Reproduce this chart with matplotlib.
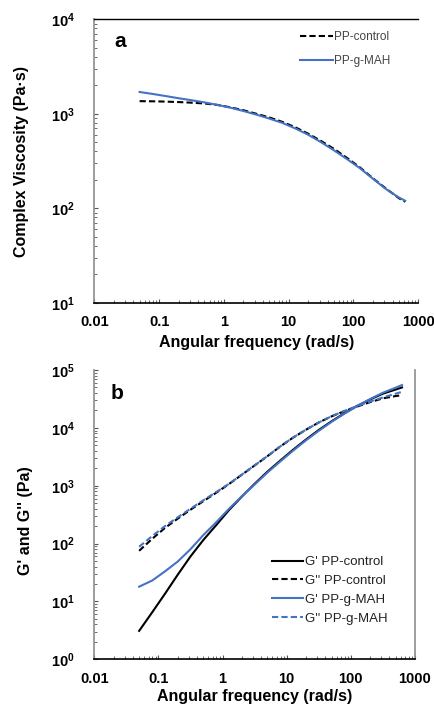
import math

import matplotlib
matplotlib.use("Agg")
import matplotlib.pyplot as plt
from matplotlib.ticker import FixedLocator, FuncFormatter, LogLocator, NullFormatter

# =========================
# DATA
# =========================

freq = [0.05, 0.08, 0.126, 0.2, 0.316, 0.5, 0.8, 1.26, 2, 3.16, 5, 8,
        12.6, 20, 31.6, 50, 80, 126, 200, 316, 500, 628]

eta_control = [1360, 1355, 1345, 1330, 1310, 1285, 1240, 1170, 1090, 1000, 915, 820,
               720, 615, 515, 425, 340, 270, 207, 162, 128, 117]
eta_mah = [1700, 1620, 1540, 1460, 1390, 1320, 1240, 1160, 1070, 980, 890, 800,
           700, 600, 500, 410, 330, 265, 205, 160, 130, 120]

g1_control = [3.1, 6.5, 13.5, 29, 60, 115, 210, 380, 650, 1080, 1750, 2750,
              4200, 6300, 9200, 13000, 18000, 24000, 31000, 39000, 46000, 50000]
g2_control = [75, 121, 186, 270, 385, 540, 760, 1070, 1550, 2240, 3240, 4800,
              6800, 9300, 12400, 15800, 19500, 23400, 27900, 32400, 35500, 36700]
g1_mah = [18, 23, 33, 49, 80, 140, 235, 400, 660, 1050, 1690, 2650,
          4050, 6100, 8900, 12700, 17700, 24000, 31500, 40500, 49500, 55000]
g2_mah = [88, 135, 200, 285, 400, 560, 780, 1080, 1560, 2250, 3250, 4820,
          6820, 9300, 12400, 15900, 19700, 23900, 28500, 33500, 39000, 42000]

xticks = [0.01, 0.1, 1, 10, 100, 1000]
xtick_labels = ["0.01", "0.1", "1", "10", "100", "1000"]

BLUE = "#4472C4"
FONT = "Liberation Sans"

plt.rcParams["mathtext.fontset"] = "custom"
plt.rcParams["mathtext.rm"] = FONT
plt.rcParams["mathtext.bf"] = FONT + ":bold"


def style_axis(ax, ymin, ymax):
    ax.set_xscale("log")
    ax.set_yscale("log")
    ax.set_xlim(0.01, 1000)
    ax.set_ylim(ymin, ymax)
    ax.xaxis.set_major_locator(FixedLocator(xticks))
    ax.set_xticklabels(xtick_labels)
    ax.xaxis.set_minor_locator(LogLocator(base=10, subs=range(2, 10)))
    ax.xaxis.set_minor_formatter(NullFormatter())
    ax.yaxis.set_major_locator(LogLocator(base=10, numticks=10))
    ax.yaxis.set_minor_locator(LogLocator(base=10, subs=range(2, 10), numticks=10))
    ax.yaxis.set_minor_formatter(NullFormatter())
    ax.yaxis.set_major_formatter(
        FuncFormatter(lambda v, p: r"$\mathbf{10^{%d}}$" % round(math.log10(v)))
    )
    ax.tick_params(which="major", direction="in", length=3, width=0.8, color="#555555",
                   labelsize=10.5)
    ax.tick_params(axis="x", which="major", pad=9)
    ax.tick_params(axis="y", which="major", pad=14)
    ax.tick_params(which="minor", direction="in", length=2, width=0.6, color="#555555")
    for lab in ax.get_xticklabels():
        lab.set_fontweight("bold")
        lab.set_family(FONT)
    ax.spines["left"].set_color("#8c8c8c")
    ax.spines["left"].set_linewidth(1.2)
    ax.spines["bottom"].set_color("black")
    ax.spines["bottom"].set_linewidth(1.2)
    ax.set_xlabel("Angular frequency (rad/s)", fontsize=11.5, fontweight="bold", family=FONT)
    ax.xaxis.label.set_va("center")


fig = plt.figure(figsize=(4.35, 7.04), dpi=100)

# =========================
# PANEL A
# =========================

ax_a = fig.add_axes([0.2168, 0.570, 0.7448, 0.4026])
ax_a.plot(freq, eta_control, color="black", lw=1.5, dashes=(3, 1.5), label="PP-control")
ax_a.plot(freq, eta_mah, color=BLUE, lw=1.5, label="PP-g-MAH")
style_axis(ax_a, 10, 1e4)
ax_a.spines["right"].set_visible(False)
ax_a.spines["top"].set_color("black")
ax_a.spines["top"].set_linewidth(1.0)
ax_a.set_ylabel("Complex Viscosity (Pa·s)", fontsize=11.5, fontweight="bold", family=FONT)
ax_a.yaxis.label.set_va("center")
ax_a.yaxis.set_label_coords(-0.226, 0.5)
ax_a.xaxis.set_label_coords(0.5, -0.142)
ax_a.text(0.063, 0.92, "a", transform=ax_a.transAxes, fontsize=15, fontweight="bold",
          family=FONT, va="center")
leg_a = ax_a.legend(loc="upper left", bbox_to_anchor=(0.635, 0.957), frameon=False,
                    borderpad=0, borderaxespad=0, handlelength=2.8, handletextpad=0.1,
                    labelspacing=1.0, prop={"family": FONT, "size": 8.5})
for t in leg_a.get_texts():
    t.set_color("#444444")

# =========================
# PANEL B
# =========================

ax_b = fig.add_axes([0.2168, 0.0635, 0.7372, 0.4109])
ax_b.plot(freq, g1_control, color="black", lw=1.5, label="G' PP-control")
ax_b.plot(freq, g2_control, color="black", lw=1.5, dashes=(3, 1.5), label="G'' PP-control")
ax_b.plot(freq, g1_mah, color=BLUE, lw=1.5, label="G' PP-g-MAH")
ax_b.plot(freq, g2_mah, color=BLUE, lw=1.5, dashes=(3, 1.5), label="G'' PP-g-MAH")
style_axis(ax_b, 1, 1e5)
ax_b.spines["top"].set_visible(False)
ax_b.spines["right"].set_color("#8c8c8c")
ax_b.spines["right"].set_linewidth(1.2)
ax_b.set_ylabel("G' and G'' (Pa)", fontsize=11.5, fontweight="bold", family=FONT)
ax_b.yaxis.label.set_va("center")
ax_b.yaxis.set_label_coords(-0.216, 0.48)
ax_b.xaxis.set_label_coords(0.5, -0.130)
ax_b.text(0.05, 0.92, "b", transform=ax_b.transAxes, fontsize=15, fontweight="bold",
          family=FONT, va="center")
leg_b = ax_b.legend(loc="upper left", bbox_to_anchor=(0.554, 0.357), frameon=False,
                    borderpad=0, borderaxespad=0, handlelength=2.35, handletextpad=0.15,
                    labelspacing=0.5, prop={"family": FONT, "size": 9.5})
for t in leg_b.get_texts():
    t.set_color("#222222")

fig.savefig("out.png", dpi=100)
plt.close(fig)
